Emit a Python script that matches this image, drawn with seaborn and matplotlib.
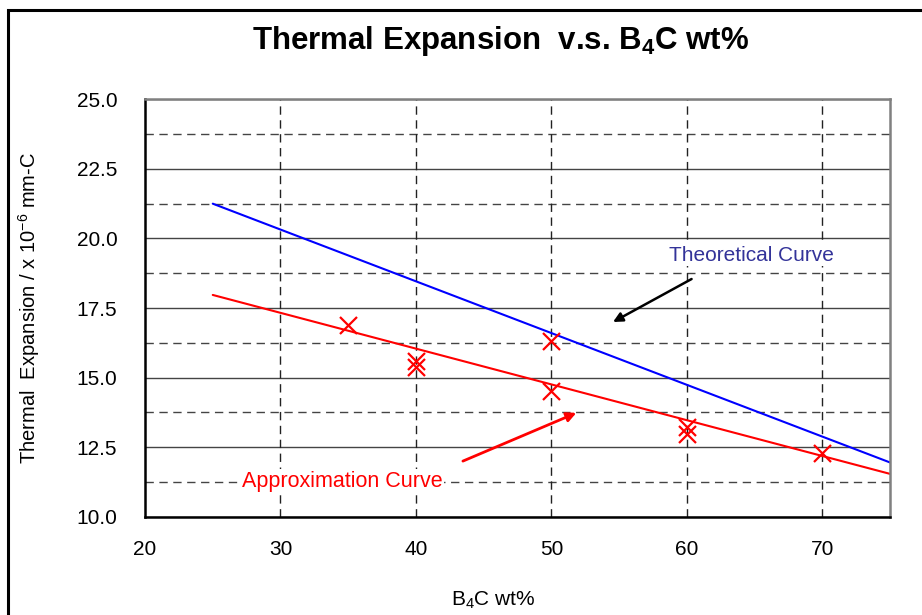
import matplotlib
matplotlib.use("Agg")
import matplotlib.pyplot as plt
import matplotlib.patches as mpatches
import pandas as pd
import seaborn as sns

# measured points (B4C wt% vs thermal expansion)
b4c_wt = [35, 40, 40, 50, 50, 60, 60, 70]
expansion = [16.89, 15.58, 15.38, 16.30, 14.53, 13.24, 12.98, 12.30]

# curve end points
theory_x = [25, 75]
theory_y = [21.25, 11.95]
approx_x = [25, 75]
approx_y = [17.97, 11.54]

x_ticks = [20, 30, 40, 50, 60, 70]
y_ticks = [10.0, 12.5, 15.0, 17.5, 20.0, 22.5, 25.0]
y_minor = [11.25, 13.75, 16.25, 18.75, 21.25, 23.75]

sns.set_style("white")
plt.rcParams["font.family"] = ["Liberation Sans", "DejaVu Sans"]
plt.rcParams["mathtext.default"] = "regular"
plt.rcParams["text.color"] = "black"
plt.rcParams["axes.labelcolor"] = "black"
plt.rcParams["xtick.color"] = "black"
plt.rcParams["ytick.color"] = "black"

points = pd.DataFrame({"wt": b4c_wt, "exp": expansion})
theory = pd.DataFrame({"wt": theory_x, "exp": theory_y})
approx = pd.DataFrame({"wt": approx_x, "exp": approx_y})

fig = plt.figure(figsize=(9.22, 6.15), dpi=100)
ax = fig.add_axes([0.1573, 0.1598, 0.808, 0.6787])

# grid: solid majors, dashed minors, dashed verticals
for y in y_ticks:
    ax.axhline(y, color="#444444", lw=1.0, zorder=0)
for y in y_minor:
    ax.axhline(y, color="#444444", lw=1.0, ls=(0, (6, 4)), zorder=0)
for x in x_ticks[1:]:
    ax.axvline(x, color="#222222", lw=1.0, ls=(0, (6, 4)), zorder=0)

sns.lineplot(data=theory, x="wt", y="exp", color="blue", lw=1.5, ax=ax)
sns.lineplot(data=approx, x="wt", y="exp", color="red", lw=1.5, ax=ax)
sns.scatterplot(data=points, x="wt", y="exp", marker="x", color="red",
                s=150, linewidth=1.6, ax=ax, zorder=5)

ax.set_xlim(20, 75)
ax.set_ylim(10, 25)
ax.set_xticks(x_ticks)
ax.set_yticks(y_ticks)
ax.set_yticklabels([f"{v:.1f}" for v in y_ticks])
ax.tick_params(axis="y", direction="in", length=6, width=1.5, pad=20,
               labelsize=15, color="#333333")
ax.tick_params(axis="x", length=0, pad=17, labelsize=15)

for side in ["left", "bottom"]:
    ax.spines[side].set_color("black")
    ax.spines[side].set_linewidth(1.8)
for side in ["top", "right"]:
    ax.spines[side].set_color("#808080")
    ax.spines[side].set_linewidth(1.8)

ax.set_xlabel("B$_4$C wt%", fontsize=15)
ax.xaxis.set_label_coords(0.467, -0.175)
ax.set_ylabel("Thermal  Expansion / x 10$^{-6}$ mm-C", fontsize=14.5)
ax.yaxis.set_label_coords(-0.138, 0.5)

fig.text(0.543, 0.933, "Thermal Expansion  v.s. B$_4$C wt%", ha="center",
         va="center", fontsize=22.5, fontweight="bold")

box = dict(facecolor="white", edgecolor="none", pad=1)
ax.text(64.8, 19.4, "Theoretical Curve", color="#333399", fontsize=15,
        ha="center", va="center", bbox=box)
ax.text(34.6, 11.28, "Approximation Curve", color="red", fontsize=15.5,
        ha="center", va="center", bbox=box)
ax.annotate("", xy=(54.37, 16.95), xytext=(60.53, 18.59),
            arrowprops=dict(arrowstyle="-|>", color="black", lw=1.8,
                            mutation_scale=14))
ax.annotate("", xy=(52.03, 13.77), xytext=(43.28, 11.96),
            arrowprops=dict(arrowstyle="-|>", color="red", lw=2.0,
                            mutation_scale=14))

# outer frame, only top and left edges fall inside the picture
fig.add_artist(mpatches.Rectangle((8 / 922, -0.1), 1.2, 1.1 - 10 / 615,
                                  transform=fig.transFigure, fill=False,
                                  edgecolor="black", lw=2.2, clip_on=False))

fig.savefig("out.png", dpi=100)
